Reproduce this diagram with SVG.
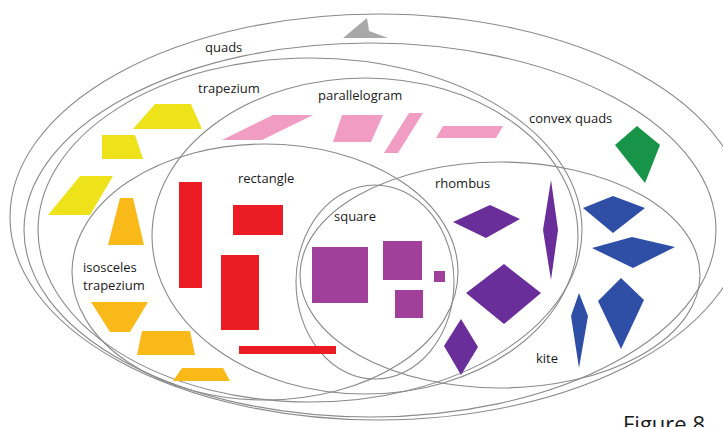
<svg xmlns="http://www.w3.org/2000/svg" width="723" height="427" viewBox="0 0 723 427">
<style>
.set{fill:none;stroke:#8a8a8a;stroke-width:1.1}
.lbl{font-family:"Open Sans","Liberation Sans",sans-serif;font-size:13px;fill:#1a1a1a}
.yel{fill:#EEE31B}
.org{fill:#F9B918}
.red{fill:#EC1C24}
.sq{fill:#A1409B}
.rh{fill:#6A2E9A}
.pk{fill:#F19CC3}
.bl{fill:#2F4EA6}
.gr{fill:#179447}
.gy{fill:#A8A8A8}
</style>
<rect width="723" height="427" fill="#ffffff"/>
<g id="sets">
<ellipse id="set-quads" class="set" cx="378" cy="217" rx="368" ry="203"/>
<ellipse id="set-convex" class="set" cx="370" cy="230" rx="346" ry="187"/>
<ellipse id="set-trapezium" class="set" cx="310" cy="230" rx="272" ry="172"/>
<ellipse id="set-parallelogram" class="set" cx="365" cy="236" rx="213" ry="158"/>
<ellipse id="set-isosceles" class="set" cx="265" cy="272" rx="193" ry="128"/>
<ellipse id="set-kite" class="set" cx="500" cy="275" rx="200" ry="113"/>
<ellipse id="set-square" class="set" cx="375" cy="282" rx="79" ry="97"/>
</g>
<g id="quads-shapes">
<polygon class="gy" points="343,38 367,18 369,31 388,38"/>
<polygon class="gr" points="637,126 660,145 645,183 615,145"/>
</g>
<g id="trapezium-shapes">
<polygon class="yel" points="155,104 191,104 202,129 133,129"/>
<polygon class="yel" points="102,135 135,135 143,159 102,159"/>
<polygon class="yel" points="80,176 113,176 90,215 48,215"/>
</g>
<g id="isosceles-shapes">
<polygon class="org" points="120,198 133,198 144,245 108,245"/>
<polygon class="org" points="91,302 148,302 130,332 110,332"/>
<polygon class="org" points="142,331 190,331 195,355 137,355"/>
<polygon class="org" points="182,368 223,368 230,381 173,381"/>
</g>
<g id="parallelogram-shapes">
<polygon class="pk" points="273,115 313,115 262,140 222,140"/>
<polygon class="pk" points="342,115 383,115 371,142 333,142"/>
<polygon class="pk" points="409,113 423,113 398,153 384,153"/>
<polygon class="pk" points="443,126 503,126 496,138 436,138"/>
</g>
<g id="rectangle-shapes">
<rect class="red" x="179" y="182" width="23" height="106"/>
<rect class="red" x="233" y="205" width="50" height="30"/>
<rect class="red" x="221" y="255" width="38" height="75"/>
<rect class="red" x="239" y="346" width="97" height="8"/>
</g>
<g id="square-shapes">
<rect class="sq" x="312" y="247" width="56" height="56"/>
<rect class="sq" x="383" y="241" width="39" height="39"/>
<rect class="sq" x="395" y="290" width="28" height="28"/>
<rect class="sq" x="434" y="271" width="11" height="11"/>
</g>
<g id="rhombus-shapes">
<polygon class="rh" points="453,222 490,205 520,219 486,238"/>
<polygon class="rh" points="551,180 558,230 551,280 543,230"/>
<polygon class="rh" points="504,264 541,293 504,324 466,293"/>
<polygon class="rh" points="461,319 478,347 461,375 444,346"/>
</g>
<g id="kite-shapes">
<polygon class="bl" points="583,208 613,196 645,208 613,233"/>
<polygon class="bl" points="592,248 632,237 675,247 633,268"/>
<polygon class="bl" points="621,278 644,300 621,349 598,301"/>
<polygon class="bl" points="579,293 588,316 579,368 571,316"/>
</g>
<g id="labels">
<text class="lbl" x="205" y="52">quads</text>
<text class="lbl" x="198" y="93">trapezium</text>
<text class="lbl" x="318" y="100">parallelogram</text>
<text class="lbl" x="529" y="123">convex quads</text>
<text class="lbl" x="238" y="183">rectangle</text>
<text class="lbl" x="435" y="188">rhombus</text>
<text class="lbl" x="334" y="221">square</text>
<text class="lbl" x="83" y="272">isosceles</text>
<text class="lbl" x="83" y="290">trapezium</text>
<text class="lbl" x="536" y="363">kite</text>
<text x="623" y="432" font-family="'Open Sans','Liberation Sans',sans-serif" font-size="22" fill="#1a1a1a">Figure 8</text>
</g>
</svg>
